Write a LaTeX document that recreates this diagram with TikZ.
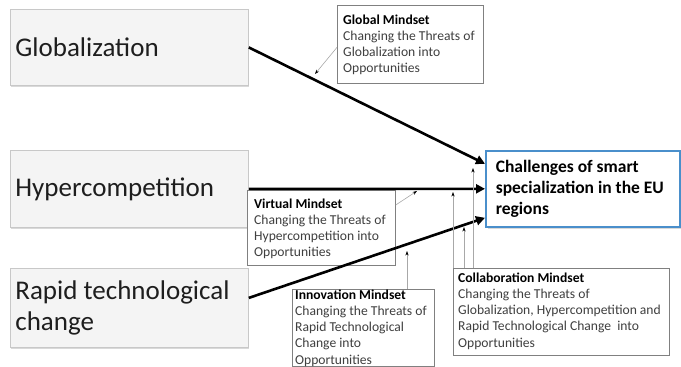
\documentclass[tikz,border=0pt]{standalone}
\usepackage{fontspec}
\setmainfont{Carlito}
\usetikzlibrary{arrows.meta,shadows,calc}
\definecolor{srcfill}{HTML}{F4F4F4}
\definecolor{srcdraw}{HTML}{C8C8C8}
\definecolor{tgtblue}{HTML}{4A8FCB}
\definecolor{boxgray}{HTML}{808080}
\definecolor{thingray}{HTML}{A8A8A8}
\definecolor{bodytxt}{HTML}{3F3F3F}
\definecolor{bigtxt}{HTML}{1E1E1E}
\begin{document}
\begin{tikzpicture}[x=1pt,y=-1pt,
  srcbox/.style={draw=srcdraw, fill=srcfill, line width=0.8pt, anchor=north west,
    text width=228pt, inner xsep=5pt, inner ysep=0pt, align=flush left, text=bigtxt,
    font=\fontsize{27}{31}\selectfont,
    drop shadow={shadow xshift=0.6pt, shadow yshift=-1.6pt, opacity=0.3}},
  tgtbox/.style={draw=tgtblue, fill=white, line width=1.6pt, anchor=north west,
    text width=174pt, inner xsep=10pt, inner ysep=0pt, align=flush left,
    font=\fontsize{17.5}{21}\selectfont\bfseries,
    drop shadow={shadow xshift=2pt, shadow yshift=-2.5pt, opacity=0.3}},
  mbox/.style={draw=boxgray, fill=white, line width=0.7pt, anchor=north west, inner sep=0pt},
  mtext/.style={anchor=north west, inner sep=0pt, align=left, text=bodytxt,
    font=\fontsize{13.6}{16.2}\selectfont},
  bigarrow/.style={line width=2.6pt, -{Triangle[length=9pt,width=9pt]}},
  smallarrow/.style={draw=thingray, line width=0.6pt, -{Stealth[length=4.5pt,width=3.2pt,color=black]}}
]
\useasboundingbox (0,0) rectangle (681,367);

% source boxes
\node[srcbox, minimum height=76pt] (glob) at (10,9) {Globalization};
\node[srcbox, minimum height=77pt] (hyper) at (10,150) {Hypercompetition};
\node[srcbox, minimum height=79pt] (rapid) at (10,268) {Rapid technological\\change};

% target
\node[tgtbox, minimum height=76pt] (tgt) at (485,150) {Challenges of smart\\specialization in the EU\\regions};

% mindset boxes
\node[mbox, minimum width=146pt, minimum height=78pt] (globm) at (337,5) {};
\node[mtext] (globmT) at (343,14.5) {\textcolor{black}{\bfseries Global Mindset}\\Changing the Threats of\\Globalization into\\Opportunities};

\node[mbox, minimum width=148pt, minimum height=75pt] (virt) at (247,190) {};
\node[mtext] (virtT) at (254,198.5) {\textcolor{black}{\bfseries Virtual Mindset}\\Changing the Threats of\\Hypercompetition into\\Opportunities};

\node[mbox, minimum width=142pt, minimum height=77pt] (inno) at (292,289) {};
\node[mtext] (innoT) at (295,289.5) {\textcolor{black}{\bfseries Innovation Mindset}\\Changing the Threats of\\Rapid Technological\\Change into\\Opportunities};

\node[mbox, minimum width=216pt, minimum height=87pt] (coll) at (453,268) {};
\node[mtext] (collT) at (458,272.5) {\textcolor{black}{\bfseries Collaboration Mindset}\\Changing the Threats of\\Globalization, Hypercompetition and\\Rapid Technological Change~ into\\Opportunities};

% thick connectors
\coordinate (rs) at ($(rapid.east)+(0,-10)$);
\draw[bigarrow] (glob.east) -- ($(tgt.west)+(0,-25)$);
\draw[bigarrow] (hyper.east) -- (tgt.west);
\draw[bigarrow] (rs) -- ($(tgt.west)+(0,29)$);

% thin connectors
\coordinate (gtip) at (315,74);
\coordinate (vtip) at (417,191);
\coordinate (itip) at (407,251);
\coordinate (c1tip) at (453,192);
\coordinate (c2tip) at (464,227);
\coordinate (c3tip) at (473,168);
\draw[smallarrow] ($(globm.west)+(0,3)$) -- (gtip);
\draw[smallarrow] ($(virt.north east)+(0,15)$) -- (vtip);
\draw[smallarrow] (inno.north -| itip) -- (itip);
\draw[smallarrow] (coll.north west) -- (c1tip);
\draw[smallarrow] (coll.north -| c2tip) -- (c2tip);
\draw[smallarrow] (coll.north -| c3tip) -- (c3tip);
\end{tikzpicture}
\end{document}
